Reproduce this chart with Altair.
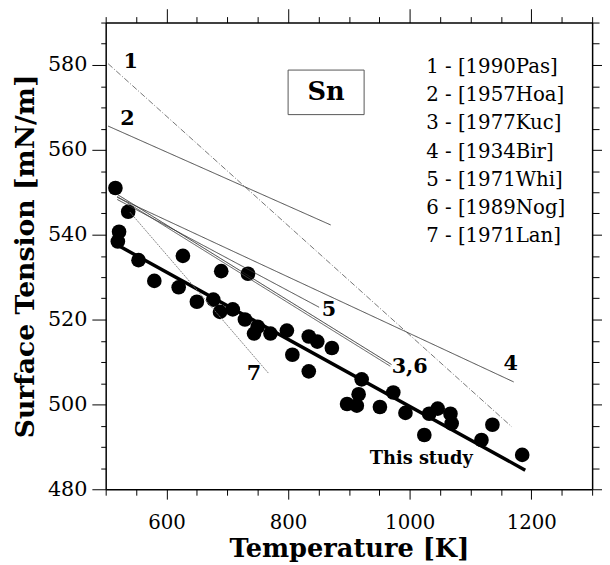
import altair as alt
import pandas as pd

# ---- data ----
temp_pts = [516, 537, 522, 520, 554, 580, 620, 627, 650, 677, 688, 690, 709, 729,
            734, 744, 750, 771, 798, 807, 834, 834, 848, 872, 897, 913, 916, 921,
            951, 973, 993, 1024, 1032, 1046, 1067, 1069, 1118, 1136, 1185]
st_pts = [551.0, 545.4, 540.7, 538.4, 534.0, 529.1, 527.6, 535.0, 524.2, 524.7, 521.8,
          531.4, 522.4, 520.0, 530.8, 516.7, 518.3, 516.7, 517.4, 511.7, 516.0, 507.8,
          514.8, 513.3, 500.1, 499.7, 502.4, 505.9, 499.4, 502.8, 498.0, 492.8, 497.8,
          499.0, 497.8, 495.5, 491.6, 495.2, 488.1]

# fit "This study"
fit_t = [520, 1190]
fit_s = [537.5, 484.5]

# literature lines
lit_ids = ["1", "2", "3", "4", "5", "6", "7"]
lit_t0 = [504, 504, 519, 519, 519, 519, 540]
lit_s0 = [580.3, 565.6, 549.5, 548.8, 548.3, 549.0, 545.3]
lit_t1 = [1168, 870, 970, 1171, 851, 968, 768]
lit_s1 = [494.7, 542.3, 509.4, 505.3, 522.9, 509.0, 507.3]

# labels on lines
lab_text = ["1", "2", "5", "3,6", "4", "7"]
lab_t = [541, 536, 867, 1000, 1166, 744]
lab_s = [580.6, 567.2, 522.2, 508.7, 509.4, 507.1]

study_text = ["This study"]
study_t = [1019]
study_s = [487.0]

# reference list
ref_text = ["1 - [1990Pas]", "2 - [1957Hoa]", "3 - [1977Kuc]", "4 - [1934Bir]",
            "5 - [1971Whi]", "6 - [1989Nog]", "7 - [1971Lan]"]
ref_t = [1027] * 7
ref_s = [579.5, 572.8, 566.2, 559.5, 552.9, 546.2, 539.6]

# element box
box_t = [800, 925]
box_s = [568.3, 578.8]
elem_text = ["Sn"]

x_ticks = list(range(500, 1301, 50))
y_ticks = list(range(480, 591, 5))

FONT = "DejaVu Serif"

pts_df = pd.DataFrame({"T": temp_pts, "S": st_pts})
fit_df = pd.DataFrame({"T": [fit_t[0]], "S": [fit_s[0]], "T2": [fit_t[1]], "S2": [fit_s[1]]})
lit_df = pd.DataFrame({"id": lit_ids, "T": lit_t0, "S": lit_s0, "T2": lit_t1, "S2": lit_s1})
lab_df = pd.DataFrame({"txt": lab_text, "T": lab_t, "S": lab_s})
study_df = pd.DataFrame({"txt": study_text, "T": study_t, "S": study_s})
ref_df = pd.DataFrame({"txt": ref_text, "T": ref_t, "S": ref_s})
box_df = pd.DataFrame({"T": [box_t[0]], "T2": [box_t[1]], "S": [box_s[0]], "S2": [box_s[1]],
                       "Tc": [(box_t[0] + box_t[1]) / 2], "Sc": [(box_s[0] + box_s[1]) / 2],
                       "txt": elem_text})

xs = alt.Scale(domain=[500, 1300], nice=False, zero=False)
ys = alt.Scale(domain=[480, 590], nice=False, zero=False)

x_bottom = alt.Axis(
    orient="bottom", values=x_ticks, format="d", title="Temperature [K]",
    labelExpr="(datum.value % 200 == 0 && datum.value >= 600 && datum.value <= 1200) ? datum.label : ''",
    tickSize=alt.ExprRef("datum.value % 200 == 0 ? 10 : 6"),
    labelFont=FONT, labelFontSize=20, labelColor="black", labelPadding=14,
    titleFont=FONT, titleFontSize=26, titleFontWeight="bold", titleColor="black", titlePadding=3,
    domainColor="black", domainWidth=1.5, tickColor="black", tickWidth=1, grid=False,
    labelFlush=False, labelOverlap=False,
)
y_left = alt.Axis(
    orient="left", values=y_ticks, format="d", title="Surface Tension [mN/m]",
    labelExpr="(datum.value % 20 == 0 && datum.value <= 580) ? datum.label : ''",
    tickSize=alt.ExprRef("datum.value % 20 == 0 ? 14 : 5"),
    labelFont=FONT, labelFontSize=21, labelColor="black", labelPadding=5,
    titleFont=FONT, titleFontSize=27, titleFontWeight="bold", titleColor="black", titlePadding=8,
    domainColor="black", domainWidth=1.5, tickColor="black", tickWidth=1, grid=False,
    labelFlush=False, labelOverlap=False,
)
x_top = alt.Axis(
    orient="top", values=x_ticks, labels=False, title=None,
    tickSize=alt.ExprRef("datum.value % 200 == 0 ? 14 : 6"),
    domainColor="black", domainWidth=1.5, tickColor="black", tickWidth=1, grid=False,
)
y_right = alt.Axis(
    orient="right", values=y_ticks, labels=False, title=None,
    tickSize=alt.ExprRef("datum.value % 20 == 0 ? 10 : 7"),
    domainColor="black", domainWidth=1.5, tickColor="black", tickWidth=1, grid=False,
)

points = alt.Chart(pts_df).mark_circle(size=220, color="black", opacity=1).encode(
    x=alt.X("T:Q", scale=xs, axis=x_bottom),
    y=alt.Y("S:Q", scale=ys, axis=y_left),
)

fit = alt.Chart(fit_df).mark_rule(color="black", strokeWidth=3.5).encode(
    x=alt.X("T:Q", scale=xs, axis=x_top),
    y=alt.Y("S:Q", scale=ys, axis=y_right),
    x2="T2:Q", y2="S2:Q",
)

lit = alt.Chart(lit_df).mark_rule().encode(
    x=alt.X("T:Q", scale=xs, axis=None),
    y=alt.Y("S:Q", scale=ys, axis=None),
    x2="T2:Q", y2="S2:Q",
    color=alt.Color("id:N", legend=None, scale=alt.Scale(
        domain=lit_ids,
        range=["#666666", "#333333", "#222222", "#333333", "#333333", "#444444", "#777777"])),
    strokeDash=alt.StrokeDash("id:N", legend=None, scale=alt.Scale(
        domain=lit_ids,
        range=[[6, 2, 1, 2], [1, 0], [1, 0], [1, 0], [1, 0], [1, 0], [2, 1]])),
    strokeWidth=alt.value(0.9),
)

labels = alt.Chart(lab_df).mark_text(font=FONT, fontSize=21, fontWeight="bold",
                                      color="black", baseline="middle", align="center").encode(
    x=alt.X("T:Q", scale=xs, axis=None),
    y=alt.Y("S:Q", scale=ys, axis=None),
    text="txt:N",
)

study = alt.Chart(study_df).mark_text(font=FONT, fontSize=18, fontWeight="bold",
                                       color="black", baseline="middle", align="center").encode(
    x=alt.X("T:Q", scale=xs, axis=None),
    y=alt.Y("S:Q", scale=ys, axis=None),
    text="txt:N",
)

refs = alt.Chart(ref_df).mark_text(font=FONT, fontSize=20, color="black",
                                    baseline="middle", align="left").encode(
    x=alt.X("T:Q", scale=xs, axis=None),
    y=alt.Y("S:Q", scale=ys, axis=None),
    text="txt:N",
)

box = alt.Chart(box_df).mark_rect(fill="white", stroke="#555555", strokeWidth=1).encode(
    x=alt.X("T:Q", scale=xs, axis=None),
    y=alt.Y("S:Q", scale=ys, axis=None),
    x2="T2:Q", y2="S2:Q",
)
elem = alt.Chart(box_df).mark_text(font=FONT, fontSize=26, fontWeight="bold", color="black",
                                    baseline="middle", align="center").encode(
    x=alt.X("Tc:Q", scale=xs, axis=None),
    y=alt.Y("Sc:Q", scale=ys, axis=None),
    text="txt:N",
)

chart = alt.layer(points, fit, lit, labels, study, refs, box, elem).resolve_axis(
    x="independent", y="independent"
).properties(
    width=493, height=473,
    autosize=alt.AutoSizeParams(type="none"),
    padding={"left": 99, "top": 11, "right": 10, "bottom": 72},
    background="white",
).configure_view(stroke=None)

chart.save("out.html", embed_options={"renderer": "svg", "actions": False})
